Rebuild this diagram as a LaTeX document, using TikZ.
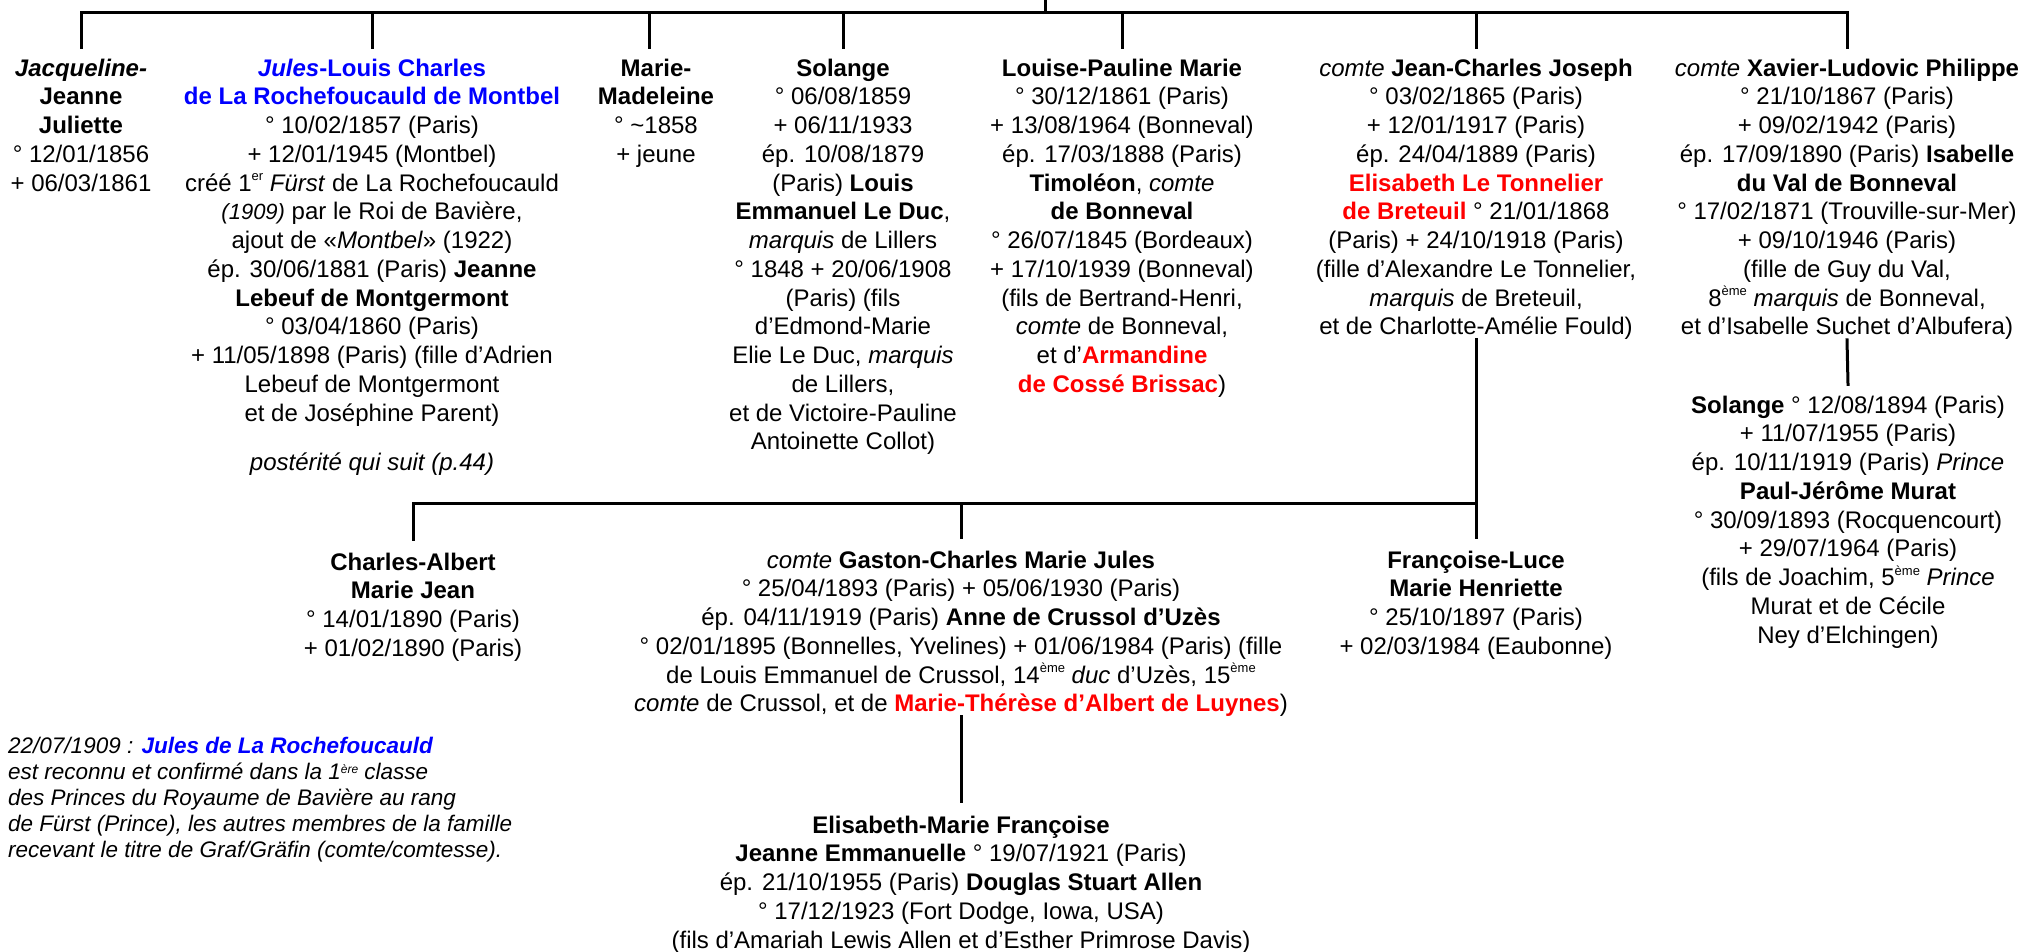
\documentclass[tikz,border=0pt]{standalone}
\usepackage{fontspec}
\setmainfont{Liberation Sans}
\usetikzlibrary{calc}
\definecolor{jblue}{RGB}{0,0,255}
\definecolor{jred}{RGB}{255,0,0}
\newcommand\supx[1]{\raisebox{0.42em}{\fontsize{13}{13}\selectfont #1}}
\begin{document}
\begin{tikzpicture}[x=1pt,y=-1pt,
  person/.style={align=center, anchor=base, inner sep=0pt, font=\fontsize{24}{28.75}\selectfont},
  notetext/.style={align=left, anchor=base west, inner sep=0pt, font=\fontsize{22.5}{26}\selectfont\itshape},
  link/.style={line width=3pt, line cap=rect}]
\useasboundingbox (0,0) rectangle (2025,951);

% first generation (anchor = baseline of the last line)
\node[person] (jacq) at (81,191) {{\bfseries\itshape Jacqueline-}\\\textbf{Jeanne}\\\textbf{Juliette}\\° 12/01/1856\\+ 06/03/1861};
\node[person] (jules) at (372,421) {\textcolor{jblue}{\textbf{\textit{Jules}-Louis Charles}}\\\textcolor{jblue}{\textbf{de La Rochefoucauld de Montbel}}\\° 10/02/1857 (Paris)\\+ 12/01/1945 (Montbel)\\créé 1\supx{er} \textit{Fürst} de La Rochefoucauld\\{\fontsize{22}{22}\selectfont\itshape (1909)} par le Roi de Bavière,\\ajout de «\textit{Montbel}» (1922)\\ép. 30/06/1881 (Paris) \textbf{Jeanne}\\\textbf{Lebeuf de Montgermont}\\° 03/04/1860 (Paris)\\+ 11/05/1898 (Paris) (fille d’Adrien\\Lebeuf de Montgermont\\et de Joséphine Parent)};
\node[person] (post) at (372,470) {\textit{postérité qui suit (p.44)}};
\node[person] (mmad) at (656,162.25) {\textbf{Marie-}\\\textbf{Madeleine}\\° \textasciitilde1858\\+ jeune};
\node[person] (sol) at (843,449.75) {\textbf{Solange}\\° 06/08/1859\\+ 06/11/1933\\ép. 10/08/1879\\(Paris) \textbf{Louis}\\\textbf{Emmanuel Le Duc},\\\textit{marquis} de Lillers\\° 1848 + 20/06/1908\\(Paris) (fils\\d’Edmond-Marie\\Elie Le Duc, \textit{marquis}\\de Lillers,\\et de Victoire-Pauline\\Antoinette Collot)};
\node[person] (lp) at (1122,392.25) {\textbf{Louise-Pauline Marie}\\° 30/12/1861 (Paris)\\+ 13/08/1964 (Bonneval)\\ép. 17/03/1888 (Paris)\\\textbf{Timoléon}, \textit{comte}\\\textbf{de Bonneval}\\° 26/07/1845 (Bordeaux)\\+ 17/10/1939 (Bonneval)\\(fils de Bertrand-Henri,\\\textit{comte} de Bonneval,\\et d’\textcolor{jred}{\textbf{Armandine}}\\\textcolor{jred}{\textbf{de Cossé Brissac}})};
\node[person] (jc) at (1476,334.75) {\textit{comte} \textbf{Jean-Charles Joseph}\\° 03/02/1865 (Paris)\\+ 12/01/1917 (Paris)\\ép. 24/04/1889 (Paris)\\\textcolor{jred}{\textbf{Elisabeth Le Tonnelier}}\\\textcolor{jred}{\textbf{de Breteuil}} ° 21/01/1868\\(Paris) + 24/10/1918 (Paris)\\(fille d’Alexandre Le Tonnelier,\\\textit{marquis} de Breteuil,\\et de Charlotte-Amélie Fould)};
\node[person] (xav) at (1847,334.75) {\textit{comte} \textbf{Xavier-Ludovic Philippe}\\° 21/10/1867 (Paris)\\+ 09/02/1942 (Paris)\\ép. 17/09/1890 (Paris) \textbf{Isabelle}\\\textbf{du Val de Bonneval}\\° 17/02/1871 (Trouville-sur-Mer)\\+ 09/10/1946 (Paris)\\(fille de Guy du Val,\\8\supx{ème} \textit{marquis} de Bonneval,\\et d’Isabelle Suchet d’Albufera)};

% second generation
\node[person] (sol2) at (1848,643) {\textbf{Solange} ° 12/08/1894 (Paris)\\+ 11/07/1955 (Paris)\\ép. 10/11/1919 (Paris) \textit{Prince}\\\textbf{Paul-Jérôme Murat}\\° 30/09/1893 (Rocquencourt)\\+ 29/07/1964 (Paris)\\(fils de Joachim, 5\supx{ème} \textit{Prince}\\Murat et de Cécile\\Ney d’Elchingen)};
\node[person] (ca) at (413,656.25) {\textbf{Charles-Albert}\\\textbf{Marie Jean}\\° 14/01/1890 (Paris)\\+ 01/02/1890 (Paris)};
\node[person] (gas) at (961,711.75) {\textit{comte} \textbf{Gaston-Charles Marie Jules}\\° 25/04/1893 (Paris) + 05/06/1930 (Paris)\\ép. 04/11/1919 (Paris) \textbf{Anne de Crussol d’Uzès}\\° 02/01/1895 (Bonnelles, Yvelines) + 01/06/1984 (Paris) (fille\\de Louis Emmanuel de Crussol, 14\supx{ème} \textit{duc} d’Uzès, 15\supx{ème}\\\textit{comte} de Crussol, et de \textcolor{jred}{\textbf{Marie-Thérèse d’Albert de Luynes}})};
\node[person] (fl) at (1476,654.25) {\textbf{Françoise-Luce}\\\textbf{Marie Henriette}\\° 25/10/1897 (Paris)\\+ 02/03/1984 (Eaubonne)};
\node[person] (eli) at (961,948) {\textbf{Elisabeth-Marie Françoise}\\\textbf{Jeanne Emmanuelle} ° 19/07/1921 (Paris)\\ép. 21/10/1955 (Paris) \textbf{Douglas Stuart Allen}\\° 17/12/1923 (Fort Dodge, Iowa, USA)\\(fils d’Amariah Lewis Allen et d’Esther Primrose Davis)};

% note
\node[notetext] (note) at (8,857) {22/07/1909 : \textcolor{jblue}{\textbf{Jules de La Rochefoucauld}}\\est reconnu et confirmé dans la 1{\fontsize{12}{12}\selectfont\raisebox{0.45em}{ère}} classe\\des Princes du Royaume de Bavière au rang\\de Fürst (Prince), les autres membres de la famille\\recevant le titre de Graf/Gräfin (comte/comtesse).};

% connectors, first generation
\coordinate (top) at (1045,0);
\coordinate (bar) at (1045,12);
\draw[link] (top) -- (bar);
\draw[link] (jacq.north |- bar) -- (xav.north |- bar);
\draw[link] (jacq.north |- bar) -- ([yshift=11pt]jacq.north);
\draw[link] (jules.north |- bar) -- ([yshift=11pt]jules.north);
\draw[link] ([xshift=-7pt]mmad.north |- bar) -- ([xshift=-7pt,yshift=11pt]mmad.north);
\draw[link] (sol.north |- bar) -- ([yshift=11pt]sol.north);
\draw[link] (lp.north |- bar) -- ([yshift=11pt]lp.north);
\draw[link] (jc.north |- bar) -- ([yshift=11pt]jc.north);
\draw[link] (xav.north |- bar) -- ([yshift=11pt]xav.north);

% connectors, second generation
\coordinate (bar2) at (1476,503);
\draw[link] (jc.south) -- ([yshift=13pt]fl.north);
\draw[link] (ca.north |- bar2) -- (bar2);
\draw[link] (ca.north |- bar2) -- ([yshift=13pt]ca.north);
\draw[link] (gas.north |- bar2) -- ([yshift=13pt]gas.north);
\draw[link] (xav.south) -- ([yshift=11pt]sol2.north);
\draw[link] (gas.south) -- ([yshift=14pt]eli.north);
\end{tikzpicture}
\end{document}
